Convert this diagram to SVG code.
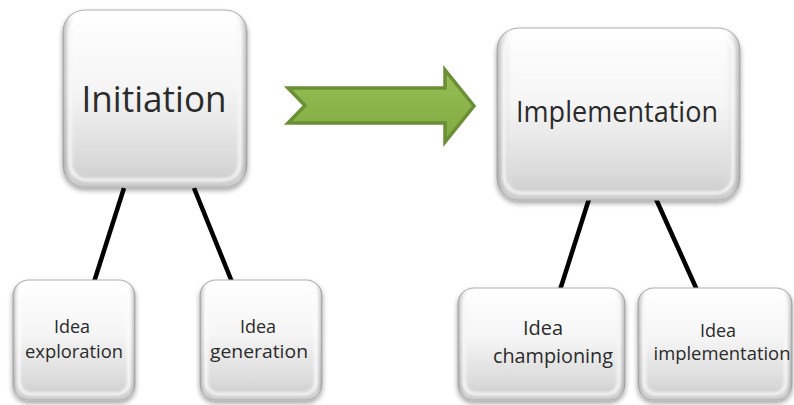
<svg xmlns="http://www.w3.org/2000/svg" width="794" height="405" viewBox="0 0 794 405">
  <defs>
    <linearGradient id="faceV" x1="0" y1="0" x2="0" y2="1">
      <stop offset="0" stop-color="#ffffff"/>
      <stop offset="0.45" stop-color="#f5f5f5"/>
      <stop offset="0.85" stop-color="#dadada"/>
      <stop offset="1" stop-color="#cacaca"/>
    </linearGradient>
    <linearGradient id="edgeH" x1="0" y1="0" x2="1" y2="0">
      <stop offset="0" stop-color="#8f8f8f" stop-opacity="0.6"/>
      <stop offset="0.07" stop-color="#ffffff" stop-opacity="0"/>
      <stop offset="0.93" stop-color="#ffffff" stop-opacity="0"/>
      <stop offset="1" stop-color="#8f8f8f" stop-opacity="0.6"/>
    </linearGradient>
    <linearGradient id="arrowFill" x1="0" y1="0" x2="0" y2="1">
      <stop offset="0" stop-color="#96bf55"/>
      <stop offset="1" stop-color="#80ab40"/>
    </linearGradient>
    <filter id="shadow" x="-20%" y="-20%" width="140%" height="140%">
      <feDropShadow dx="0" dy="3" stdDeviation="2.5" flood-color="#000" flood-opacity="0.35"/>
    </filter>
    <filter id="soft" x="-10%" y="-10%" width="120%" height="120%">
      <feGaussianBlur stdDeviation="1.5"/>
    </filter>
  </defs>
  <style>
    .frame { fill: url(#faceV); stroke: #b0b0b0; stroke-width: 1.2; }
    .edge { fill: url(#edgeH); stroke: none; }
    .gloss { fill: none; stroke: #ffffff; stroke-width: 3; opacity: 0.9; }
    .label { font-family: "Open Sans", "Noto Sans", sans-serif; fill: #2b2b2b; text-anchor: middle; }
    .big { font-size: 37px; }
    .mid { font-size: 29px; }
    .small { font-size: 18px; }
    .small2 { font-size: 20px; }
    .link { stroke: #000000; stroke-width: 4.5; stroke-linecap: butt; fill: none; }
  </style>

  <!-- tree connectors -->
  <g id="connectors">
    <line class="link" x1="124" y1="188" x2="94" y2="282"/>
    <line class="link" x1="194" y1="188" x2="232" y2="282"/>
    <line class="link" x1="589" y1="199" x2="560" y2="290"/>
    <line class="link" x1="656" y1="199" x2="697" y2="290"/>
  </g>

  <!-- phase transition arrow -->
  <g id="arrow">
    <path d="M288,88 L445,88 L445,70 L474,106 L445,142 L445,123 L288,123 L305,105.5 Z" fill="url(#arrowFill)" stroke="#6b8f36" stroke-width="3.5" stroke-linejoin="miter"/>
  </g>

  <g id="initiation">
    <rect class="frame" x="63" y="10" width="184" height="177" rx="22" filter="url(#shadow)"/>
    <rect class="edge" x="63" y="10" width="184" height="177" rx="22"/>
    <rect class="gloss" x="70" y="16" width="170" height="164" rx="17" filter="url(#soft)"/>
    <text class="label big" x="154" y="112" textLength="145" lengthAdjust="spacingAndGlyphs">Initiation</text>
  </g>

  <g id="implementation">
    <rect class="frame" x="497" y="28" width="243" height="172" rx="22" filter="url(#shadow)"/>
    <rect class="edge" x="497" y="28" width="243" height="172" rx="22"/>
    <rect class="gloss" x="504" y="34" width="229" height="159" rx="17" filter="url(#soft)"/>
    <text class="label mid" x="617" y="122" textLength="202" lengthAdjust="spacingAndGlyphs">Implementation</text>
  </g>

  <g id="idea-exploration">
    <rect class="frame" x="13" y="280" width="122" height="120" rx="16" filter="url(#shadow)"/>
    <rect class="edge" x="13" y="280" width="122" height="120" rx="16"/>
    <rect class="gloss" x="19" y="285" width="110" height="109" rx="12" filter="url(#soft)"/>
    <text class="label small" x="72" y="333">Idea</text>
    <text class="label small" x="74" y="358" textLength="98" lengthAdjust="spacingAndGlyphs">exploration</text>
  </g>

  <g id="idea-generation">
    <rect class="frame" x="200" y="280" width="122" height="120" rx="16" filter="url(#shadow)"/>
    <rect class="edge" x="200" y="280" width="122" height="120" rx="16"/>
    <rect class="gloss" x="206" y="285" width="110" height="109" rx="12" filter="url(#soft)"/>
    <text class="label small" x="258" y="333">Idea</text>
    <text class="label small" x="259" y="358" textLength="98" lengthAdjust="spacingAndGlyphs">generation</text>
  </g>

  <g id="idea-championing">
    <rect class="frame" x="458" y="288" width="167" height="112" rx="16" filter="url(#shadow)"/>
    <rect class="edge" x="458" y="288" width="167" height="112" rx="16"/>
    <rect class="gloss" x="464" y="293" width="155" height="101" rx="12" filter="url(#soft)"/>
    <text class="label small2" x="543" y="335">Idea</text>
    <text class="label small2" x="553" y="363" textLength="120" lengthAdjust="spacingAndGlyphs">championing</text>
  </g>

  <g id="idea-implementation">
    <rect class="frame" x="638" y="288" width="154" height="112" rx="16" filter="url(#shadow)"/>
    <rect class="edge" x="638" y="288" width="154" height="112" rx="16"/>
    <rect class="gloss" x="644" y="293" width="142" height="101" rx="12" filter="url(#soft)"/>
    <text class="label small" x="718" y="337">Idea</text>
    <text class="label small" x="722" y="360" textLength="137" lengthAdjust="spacingAndGlyphs">implementation</text>
  </g>
</svg>
